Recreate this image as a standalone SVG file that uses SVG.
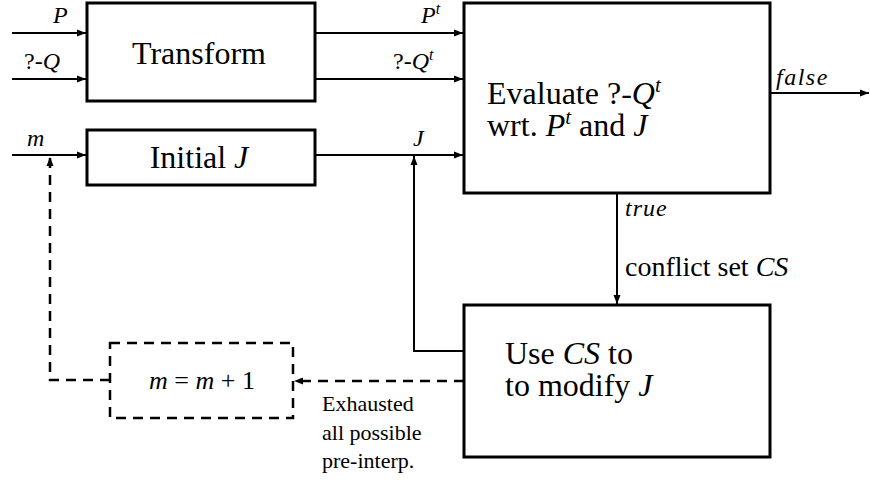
<svg xmlns="http://www.w3.org/2000/svg" width="870" height="483" viewBox="0 0 870 483">
<style>
  svg text, svg tspan, g[id] text, g[id] tspan, #labels text, text { font-family: "Liberation Serif", "Times New Roman", serif !important; }
  .it { font-style: italic; }
</style>
<defs>
  <marker id="ah" markerWidth="10" markerHeight="8" refX="9" refY="4" orient="auto" markerUnits="userSpaceOnUse">
    <path d="M0,0.5 L9,4 L0,7.5 Z" fill="#000"/>
  </marker>
</defs>

<g id="connectors" fill="none" stroke="#000" stroke-width="2">
  <line x1="12" y1="33" x2="86" y2="33" marker-end="url(#ah)"/>
  <line x1="12" y1="79" x2="86" y2="79" marker-end="url(#ah)"/>
  <line x1="12" y1="155" x2="86" y2="155" marker-end="url(#ah)"/>
  <line x1="315" y1="33" x2="463" y2="33" marker-end="url(#ah)"/>
  <line x1="315" y1="79" x2="463" y2="79" marker-end="url(#ah)"/>
  <line x1="315" y1="155" x2="463" y2="155" marker-end="url(#ah)"/>
  <line x1="770" y1="93" x2="869" y2="93" marker-end="url(#ah)"/>
  <line x1="617" y1="193" x2="617" y2="304" marker-end="url(#ah)"/>
  <polyline points="464,351 414,351 414,156" marker-end="url(#ah)"/>
  <line stroke-width="2.5" stroke-dasharray="10 7" x1="464" y1="381" x2="294" y2="381" marker-end="url(#ah)"/>
  <polyline stroke-width="2.5" stroke-dasharray="10 7" points="110,380 50,380 50,157" marker-end="url(#ah)"/>
</g>

<g id="labels" fill="#000">
  <text style="font-family:'Liberation Serif',serif" font-size="24" font-style="italic" x="53" y="23">P</text>
  <text style="font-family:'Liberation Serif',serif" font-size="24" x="24" y="69">?-<tspan font-style="italic">Q</tspan></text>
  <text style="font-family:'Liberation Serif',serif" font-size="24" font-style="italic" x="27" y="146">m</text>
  <text style="font-family:'Liberation Serif',serif" font-size="24" font-style="italic" x="421" y="23">P<tspan font-size="16" dy="-9">t</tspan></text>
  <text style="font-family:'Liberation Serif',serif" font-size="24" x="393" y="69">?-<tspan font-style="italic">Q</tspan><tspan font-style="italic" font-size="16" dy="-9">t</tspan></text>
  <text style="font-family:'Liberation Serif',serif" font-size="24" font-style="italic" x="413" y="146">J</text>
  <text style="font-family:'Liberation Serif',serif" font-size="24" font-style="italic" x="776" y="85" letter-spacing="1.5">false</text>
  <text style="font-family:'Liberation Serif',serif" font-size="24" font-style="italic" x="625" y="216" letter-spacing="1">true</text>
  <text style="font-family:'Liberation Serif',serif" font-size="28" x="625" y="276">conflict set <tspan font-style="italic">CS</tspan></text>
  <text style="font-family:'Liberation Serif',serif" font-size="22" x="322" y="411">Exhausted</text>
  <text style="font-family:'Liberation Serif',serif" font-size="22" x="322" y="440">all possible</text>
  <text style="font-family:'Liberation Serif',serif" font-size="22" x="322" y="468">pre-interp.</text>
</g>

<g id="transform">
  <rect x="87" y="3" width="228" height="98" fill="#fff" stroke="#000" stroke-width="3"/>
  <text style="font-family:'Liberation Serif',serif" font-size="32" x="199" y="64" text-anchor="middle">Transform</text>
</g>

<g id="initial">
  <rect x="87" y="130" width="228" height="55" fill="#fff" stroke="#000" stroke-width="3"/>
  <text style="font-family:'Liberation Serif',serif" font-size="32" x="199" y="168" text-anchor="middle">Initial <tspan font-style="italic">J</tspan></text>
</g>

<g id="evaluate">
  <rect x="464" y="3" width="306" height="190" fill="#fff" stroke="#000" stroke-width="3"/>
  <text style="font-family:'Liberation Serif',serif" font-size="32" x="487" y="104">Evaluate ?-<tspan font-style="italic">Q</tspan><tspan font-style="italic" font-size="21" dy="-12">t</tspan></text>
  <text style="font-family:'Liberation Serif',serif" font-size="32" x="487" y="136">wrt. <tspan font-style="italic">P</tspan><tspan font-style="italic" font-size="21" dy="-12">t</tspan><tspan dy="12"> and </tspan><tspan font-style="italic">J</tspan></text>
</g>

<g id="use">
  <rect x="464" y="305" width="306" height="152" fill="#fff" stroke="#000" stroke-width="3"/>
  <text style="font-family:'Liberation Serif',serif" font-size="32" x="505" y="364">Use <tspan font-style="italic">CS</tspan> to</text>
  <text style="font-family:'Liberation Serif',serif" font-size="32" x="505" y="396">to modify <tspan font-style="italic">J</tspan></text>
</g>

<g id="increment">
  <rect x="110" y="343" width="183" height="75" fill="none" stroke="#000" stroke-width="2.5" stroke-dasharray="10 7"/>
  <text style="font-family:'Liberation Serif',serif" font-size="26" x="202" y="389" text-anchor="middle"><tspan font-style="italic">m</tspan> = <tspan font-style="italic">m</tspan> + 1</text>
</g>
</svg>
